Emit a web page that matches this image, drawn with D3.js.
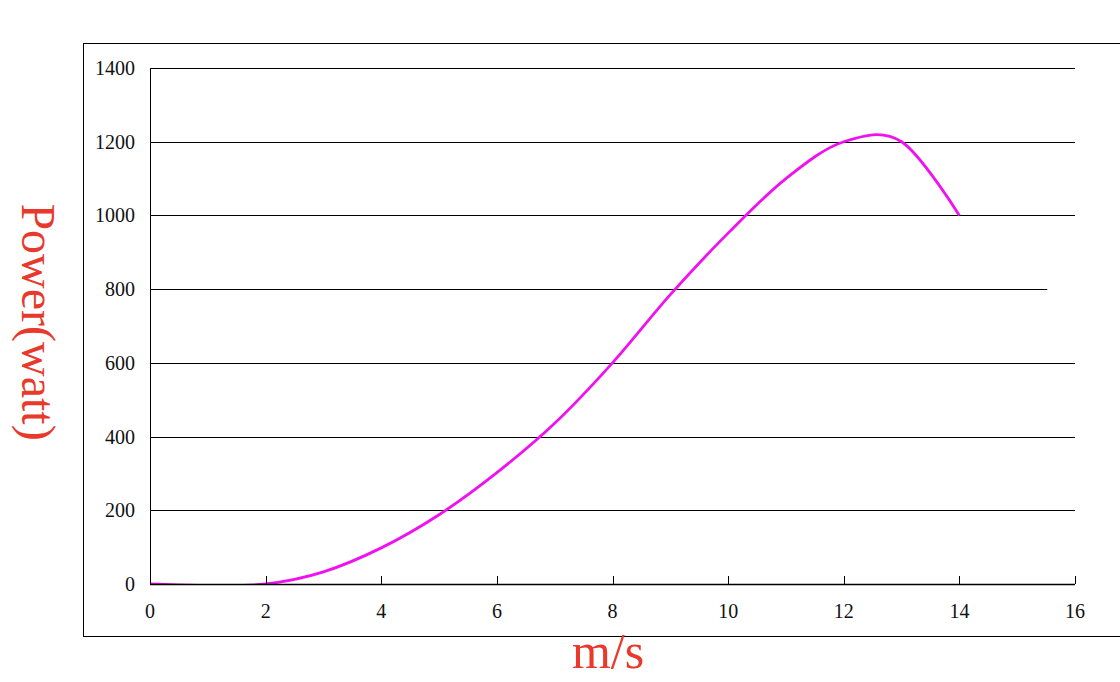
<!DOCTYPE html>
<html lang="en">
<head>
    <meta charset="UTF-8">
    <title>Power curve</title>
    <script src="https://d3js.org/d3.v7.min.js"></script>
    <style>
        body { margin: 0; background: #fff; }
        .tick-label { font: 20px "Liberation Serif", "DejaVu Serif", serif; fill: #111; }
        .title { font-family: "Liberation Serif", serif; fill: #e8392c; }
    </style>
</head>
<body>
    <svg width="1120" height="682"></svg>
    <script>
        var speeds = [0, 1, 2, 3, 4, 5, 6, 7, 8, 9, 10, 11, 12, 13, 14];
        var power  = [0, -4, 0, 33, 98, 188, 302, 436, 600, 785, 952, 1100, 1200, 1200, 1000];
        var xTicks = [0, 2, 4, 6, 8, 10, 12, 14, 16];
        var yTicks = [0, 200, 400, 600, 800, 1000, 1200, 1400];

        var svg = d3.select("svg");

        var x = d3.scaleLinear().domain([0, 16]).range([150, 1075]);
        var y = d3.scaleLinear().domain([0, 1400]).range([584, 68]);

        // outer frame (runs past the right edge)
        svg.append("rect")
            .attr("x", 83.5).attr("y", 43.5)
            .attr("width", 1100).attr("height", 593)
            .attr("fill", "none").attr("stroke", "#000").attr("stroke-width", 1);

        // gridlines (the 800 one is a bit shorter in the original)
        svg.selectAll(".grid")
            .data(yTicks.filter(function(d) { return d > 0; }))
            .enter().append("line")
            .attr("x1", x(0))
            .attr("x2", function(d) { return d === 800 ? x(15.52) : x(16); })
            .attr("y1", function(d) { return Math.round(y(d)) + 0.5; })
            .attr("y2", function(d) { return Math.round(y(d)) + 0.5; })
            .attr("stroke", "#000").attr("stroke-width", 1);

        // y axis line
        svg.append("line")
            .attr("x1", x(0) + 0.5).attr("x2", x(0) + 0.5)
            .attr("y1", y(1400)).attr("y2", y(0))
            .attr("stroke", "#000");

        svg.selectAll(".ylab")
            .data(yTicks)
            .enter().append("text")
            .attr("class", "tick-label")
            .attr("x", 135)
            .attr("y", function(d) { return y(d) + 7; })
            .attr("text-anchor", "end")
            .text(function(d) { return d; });

        // curve, clipped to the plot area
        svg.append("clipPath").attr("id", "plot")
            .append("rect").attr("x", x(0)).attr("y", 40)
            .attr("width", x(16) - x(0)).attr("height", y(0) - 40);

        var line = d3.line()
            .x(function(d, i) { return x(speeds[i]); })
            .y(function(d) { return y(d); })
            .curve(d3.curveCatmullRom.alpha(0));

        svg.append("path")
            .datum(power)
            .attr("clip-path", "url(#plot)")
            .attr("d", line)
            .attr("fill", "none")
            .attr("stroke", "#f010f0")
            .attr("stroke-width", 2.8);

        // x axis
        svg.append("line")
            .attr("x1", x(0)).attr("x2", x(16))
            .attr("y1", y(0) + 0.5).attr("y2", y(0) + 0.5)
            .attr("stroke", "#000").attr("stroke-width", 1.5);

        svg.selectAll(".xtick")
            .data(xTicks)
            .enter().append("line")
            .attr("x1", function(d) { return Math.round(x(d)) + 0.5; })
            .attr("x2", function(d) { return Math.round(x(d)) + 0.5; })
            .attr("y1", y(0) - 8).attr("y2", y(0))
            .attr("stroke", "#000");

        svg.selectAll(".xlab")
            .data(xTicks)
            .enter().append("text")
            .attr("class", "tick-label")
            .attr("x", function(d) { return x(d); })
            .attr("y", 618)
            .attr("text-anchor", "middle")
            .text(function(d) { return d; });

        // axis titles
        svg.append("text")
            .attr("class", "title")
            .attr("font-size", 50)
            .attr("x", 608).attr("y", 668)
            .attr("text-anchor", "middle")
            .text("m/s");

        svg.append("text")
            .attr("class", "title")
            .attr("font-size", 48)
            .attr("transform", "translate(22,322) rotate(90)")
            .attr("text-anchor", "middle")
            .text("Power(watt)");
    </script>
</body>
</html>
